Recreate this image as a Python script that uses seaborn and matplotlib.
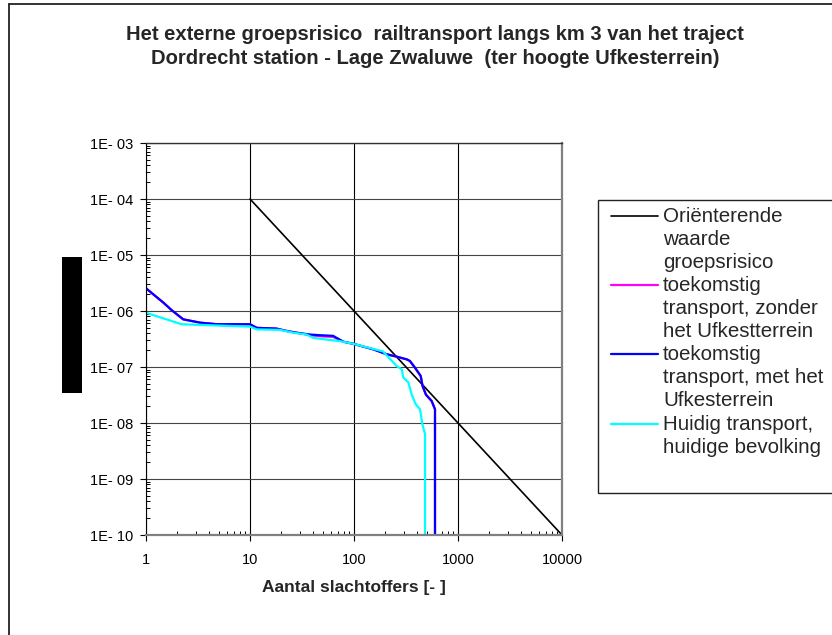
import matplotlib
matplotlib.use("Agg")
import matplotlib.pyplot as plt
import numpy as np
import pandas as pd
import seaborn as sns
from matplotlib.lines import Line2D
from matplotlib.patches import Rectangle
from matplotlib.ticker import FixedLocator, FixedFormatter, LogLocator, NullFormatter

# ---- chart text -------------------------------------------------------------
title_lines = [
    "Het externe groepsrisico  railtransport langs km 3 van het traject",
    "Dordrecht station - Lage Zwaluwe  (ter hoogte Ufkesterrein)",
]
x_label = "Aantal slachtoffers [- ]"

# ---- series: number of victims (N) and cumulative frequency (per year) ------
norm_n = [10, 10000]
norm_f = [1e-4, 1e-10]

zonder_n = [1, 1.47, 1.77, 2.28, 3.3, 4.8, 10, 11.6, 18, 22.5, 28, 37.8, 47, 63, 79,
            98, 153, 206, 257, 321, 345, 386, 438, 456, 492, 558, 601, 601]
zonder_f = [2.54e-6, 1.41e-6, 1.03e-6, 7.1e-7, 6.2e-7, 5.8e-7, 5.8e-7, 5.0e-7, 4.85e-7,
            4.4e-7, 4.1e-7, 3.7e-7, 3.55e-7, 3.45e-7, 2.83e-7, 2.6e-7, 2.07e-7, 1.69e-7,
            1.53e-7, 1.37e-7, 1.28e-7, 9.7e-8, 6.9e-8, 4.6e-8, 3.2e-8, 2.47e-8, 1.76e-8, 1e-10]

met_n = [1, 1.47, 1.77, 2.28, 3.3, 4.8, 10, 11.6, 18, 22.5, 28, 37.8, 47, 63, 79,
         98, 153, 206, 257, 321, 345, 386, 438, 456, 492, 558, 601, 601]
met_f = [2.54e-6, 1.41e-6, 1.03e-6, 7.1e-7, 6.2e-7, 5.8e-7, 5.8e-7, 5.0e-7, 4.85e-7,
         4.4e-7, 4.1e-7, 3.8e-7, 3.7e-7, 3.6e-7, 2.83e-7, 2.6e-7, 2.07e-7, 1.69e-7,
         1.53e-7, 1.37e-7, 1.28e-7, 9.7e-8, 6.9e-8, 4.6e-8, 3.2e-8, 2.47e-8, 1.76e-8, 1e-10]

huidig_n = [1, 2.2, 10, 11.6, 19.4, 26, 35, 40.6, 73, 98, 190, 257, 288, 298, 333,
            359, 394, 431, 454, 482, 482]
huidig_f = [9.3e-7, 5.8e-7, 5.25e-7, 4.7e-7, 4.6e-7, 4.1e-7, 3.8e-7, 3.3e-7, 2.9e-7,
            2.6e-7, 1.9e-7, 1.04e-7, 9.1e-8, 6.5e-8, 5.3e-8, 3.2e-8, 2.13e-8, 1.76e-8,
            9.6e-9, 6.3e-9, 1e-10]

series_labels = [
    "Oriënterende\nwaarde\ngroepsrisico",
    "toekomstig\ntransport, zonder\nhet Ufkestterrein",
    "toekomstig\ntransport, met het\nUfkesterrein",
    "Huidig transport,\nhuidige bevolking",
]
series_colors = ["#000000", "#FF00FF", "#0000FF", "#00FFFF"]
series_widths = [1.2, 1.6, 1.6, 1.6]

x_ticks = [1, 10, 100, 1000, 10000]
x_tick_labels = ["1", "10", "100", "1000", "10000"]
y_ticks = [1e-10, 1e-9, 1e-8, 1e-7, 1e-6, 1e-5, 1e-4, 1e-3]
y_tick_labels = ["1E- 10", "1E- 09", "1E- 08", "1E- 07", "1E- 06", "1E- 05", "1E- 04", "1E- 03"]

# ---- long table for seaborn ---------------------------------------------------
frames = []
for lab, n, f in zip(series_labels, [norm_n, zonder_n, met_n, huidig_n],
                     [norm_f, zonder_f, met_f, huidig_f]):
    frames.append(pd.DataFrame({"N": n, "F": f, "serie": lab, "order": range(len(n))}))
df = pd.concat(frames, ignore_index=True)

# ---- figure -------------------------------------------------------------------
sns.set_style("white")
plt.rcParams["font.family"] = ["Liberation Sans", "DejaVu Sans"]

W, H = 832, 635
fig = plt.figure(figsize=(W / 100, H / 100), dpi=100)


def fx(px):
    return px / W


def fy(py):
    return 1 - py / H


ax = fig.add_axes([fx(146), fy(535), (562 - 146) / W, (535 - 143) / H])
ax.set_xscale("log")
ax.set_yscale("log")

for lab, col, lw in zip(series_labels, series_colors, series_widths):
    sub = df[df["serie"] == lab]
    sns.lineplot(data=sub, x="N", y="F", ax=ax, color=col, linewidth=lw,
                 sort=False, estimator=None, legend=False)

ax.set_xlim(1, 10000)
ax.set_ylim(1e-10, 1e-3)
ax.set_xlabel("")
ax.set_ylabel("")

ax.xaxis.set_major_locator(FixedLocator(x_ticks))
ax.xaxis.set_major_formatter(FixedFormatter(x_tick_labels))
ax.yaxis.set_major_locator(FixedLocator(y_ticks))
ax.yaxis.set_major_formatter(FixedFormatter(y_tick_labels))
ax.xaxis.set_minor_locator(LogLocator(base=10, subs=np.arange(2, 10), numticks=20))
ax.yaxis.set_minor_locator(LogLocator(base=10, subs=np.arange(2, 10), numticks=20))
ax.xaxis.set_minor_formatter(NullFormatter())
ax.yaxis.set_minor_formatter(NullFormatter())

ax.tick_params(axis="both", which="major", direction="out", length=4, width=0.8,
               color="#000000", labelsize=10.5, labelcolor="#000000")
ax.tick_params(axis="y", which="major", pad=5)
ax.tick_params(axis="x", which="major", pad=9)
ax.tick_params(axis="both", which="minor", direction="in", length=3, width=0.7,
               color="#000000")
ax.tick_params(left=True, bottom=True, which="both")

ax.grid(False)
ax.yaxis.grid(True, which="major", color="#444444", linewidth=0.8)
ax.xaxis.grid(True, which="major", color="#000000", linewidth=0.8)
ax.set_axisbelow(True)

ax.spines["left"].set_color("#000000")
ax.spines["left"].set_linewidth(0.8)
ax.spines["top"].set_color("#333333")
ax.spines["top"].set_linewidth(1.0)
ax.spines["right"].set_color("#808080")
ax.spines["right"].set_linewidth(1.6)
ax.spines["bottom"].set_color("#808080")
ax.spines["bottom"].set_linewidth(1.6)

ax.set_xlabel(x_label, fontsize=12.5, fontweight="bold", labelpad=9)

# ---- titles -------------------------------------------------------------------
fig.text(fx(435), fy(35), title_lines[0], ha="center", va="center",
         fontsize=14.5, fontweight="bold")
fig.text(fx(435), fy(59), title_lines[1], ha="center", va="center",
         fontsize=14.5, fontweight="bold")

# ---- vertical axis title block -----------------------------------------------
fig.add_artist(Rectangle((fx(62), fy(393)), (82 - 62) / W, (393 - 257) / H,
                         transform=fig.transFigure, facecolor="#000000",
                         edgecolor="none"))

# ---- legend -------------------------------------------------------------------
fig.add_artist(Rectangle((fx(597.5), fy(493)), (850 - 597.5) / W, (493 - 200) / H,
                         transform=fig.transFigure, facecolor="white",
                         edgecolor="#222222", linewidth=1.0))
line_step = 23.1
first_line = 215.7
k = 0
for lab, col, lw in zip(series_labels, series_colors, series_widths):
    y0 = first_line + k * line_step
    fig.add_artist(Line2D([fx(611), fx(658)], [fy(y0), fy(y0)],
                          transform=fig.transFigure, color=col, linewidth=lw))
    for j, part in enumerate(lab.split("\n")):
        fig.text(fx(663), fy(y0 + j * line_step + 6), part, ha="left",
                 va="baseline", fontsize=14.8)
    k += len(lab.split("\n"))

# ---- chart border -------------------------------------------------------------
fig.add_artist(Line2D([fx(9), fx(9)], [fy(4), 0], transform=fig.transFigure,
                      color="#222222", linewidth=1.3))
fig.add_artist(Line2D([fx(9), 1], [fy(4), fy(4)], transform=fig.transFigure,
                      color="#222222", linewidth=1.3))

fig.savefig("out.png", dpi=100)
